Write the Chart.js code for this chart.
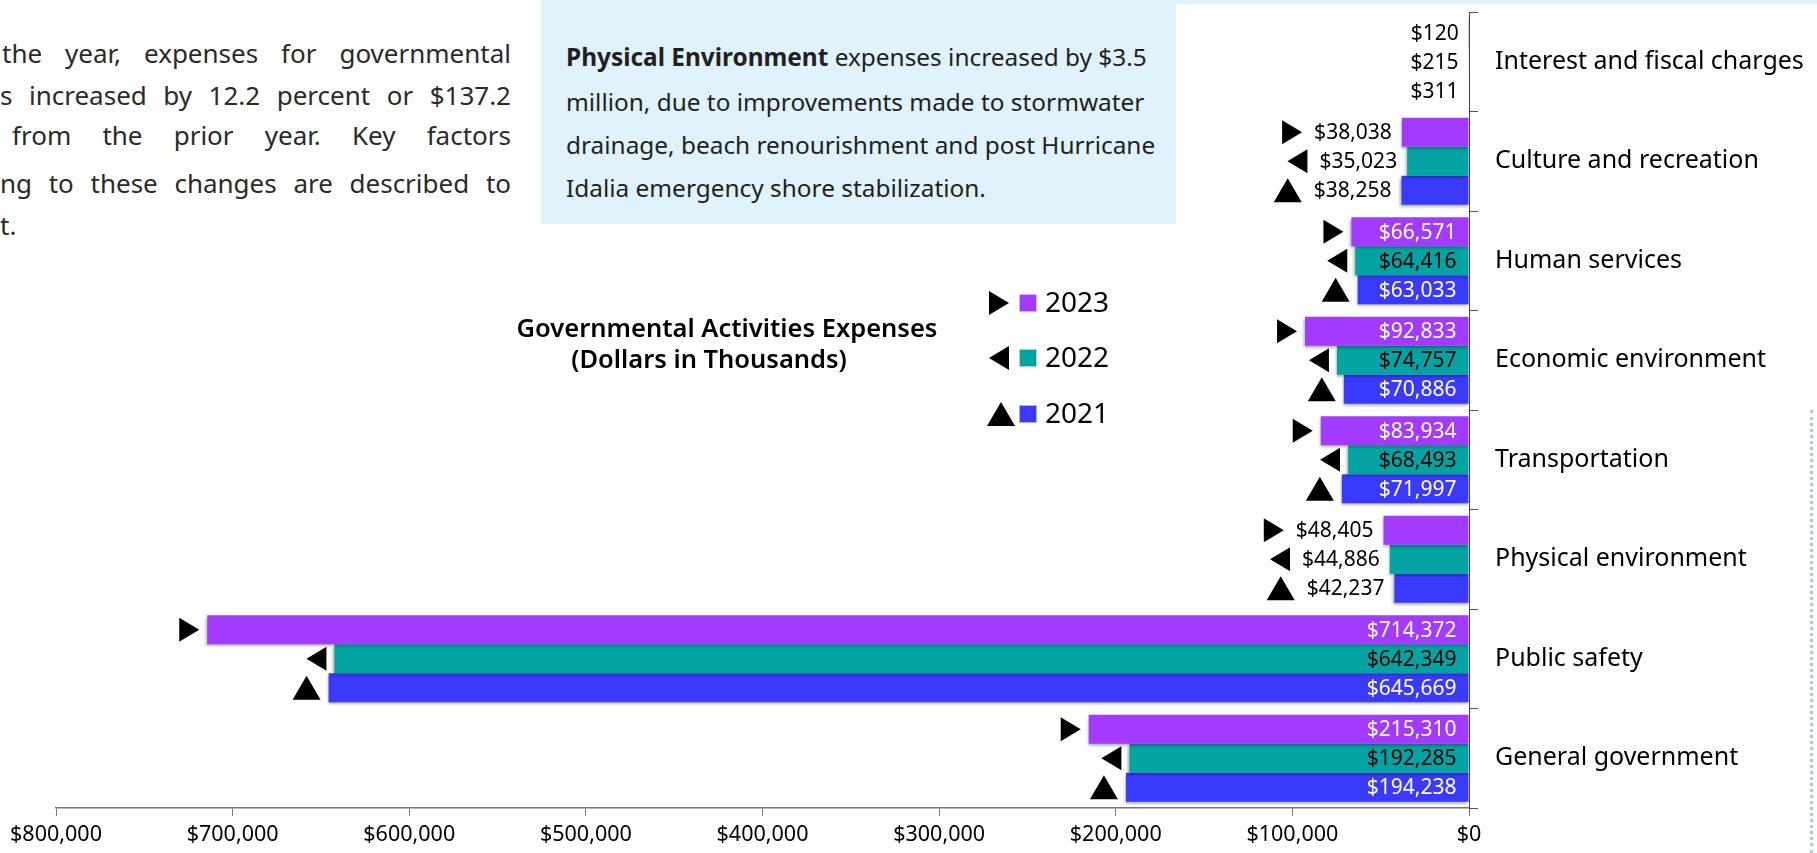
<!DOCTYPE html>
<html>
<head>
<meta charset="utf-8">
<script src="https://cdn.jsdelivr.net/npm/chart.js@4.4.1/dist/chart.umd.min.js"></script>
<style>
body{margin:0;background:#fff;}
#page{position:relative;width:1817px;height:853px;overflow:hidden;font-family:"Noto Sans",sans-serif;}
#chartBox{position:absolute;left:0;top:0;width:1817px;height:853px;}
.pl{position:absolute;left:0;width:511px;height:30px;line-height:30px;font-size:26px;color:#2a2a2a;white-space:nowrap;text-align:justify;text-align-last:justify;}
#note{position:absolute;left:541px;top:0;width:635px;height:224px;background:#e0f2fb;}
.nl{position:absolute;left:25px;height:30px;line-height:30px;font-size:24.4px;color:#231f20;white-space:nowrap;}
#strip{position:absolute;left:1176px;top:0;width:641px;height:4px;background:#e0f2fb;}
#edge{position:absolute;left:1810px;top:410px;width:0;height:443px;border-left:3px dotted #a9c9ec;}
</style>
</head>
<body>
<div id="page">
  <!-- texte de gauche (coupé par le cadrage) -->
  <div class="pl" style="top:38px;left:2px;width:509px">the year, expenses for governmental</div>
  <div class="pl" style="top:80px">s increased by 12.2 percent or $137.2</div>
  <div class="pl" style="top:120px;left:12px;width:499px">from the prior year. Key factors</div>
  <div class="pl" style="top:168px">ng to these changes are described to</div>
  <div class="pl" style="top:210px;text-align:left;text-align-last:left">t.</div>

  <div id="note">
    <div class="nl" style="top:42px"><b>Physical Environment</b> expenses increased by $3.5</div>
    <div class="nl" style="top:87px">million, due to improvements made to stormwater</div>
    <div class="nl" style="top:130px">drainage, beach renourishment and post Hurricane</div>
    <div class="nl" style="top:173px">Idalia emergency shore stabilization.</div>
  </div>
  <div id="strip"></div>
  <div id="edge"></div>

  <div id="chartBox"><canvas id="expChart"></canvas></div>
</div>
<script>
// categories, du haut vers le bas
var categories = ['Interest and fiscal charges', 'Culture and recreation', 'Human services',
	'Economic environment', 'Transportation', 'Physical environment', 'Public safety', 'General government'];
var years = ['2023', '2022', '2021'];
// dépenses (milliers de dollars)
var exp2023 = [120, 38038, 66571, 92833, 83934, 48405, 714372, 215310];
var exp2022 = [215, 35023, 64416, 74757, 68493, 44886, 642349, 192285];
var exp2021 = [311, 38258, 63033, 70886, 71997, 42237, 645669, 194238];
var xTicks = [0, 100000, 200000, 300000, 400000, 500000, 600000, 700000, 800000];

var purple = '#a23bff', teal = '#03a3a3', blue = '#3a3aff';

function money(v){
	return '$' + v.toLocaleString('en-US');
}

// petit triangle noir (droite, gauche, haut) ; rx = bord droit
function drawMarker(ctx, type, rx, cy){
	ctx.beginPath();
	if(type == 'right'){
		ctx.moveTo(rx - 20, cy - 12); ctx.lineTo(rx, cy); ctx.lineTo(rx - 20, cy + 12);
	}else if(type == 'left'){
		ctx.moveTo(rx, cy - 12); ctx.lineTo(rx - 20, cy); ctx.lineTo(rx, cy + 12);
	}else{
		ctx.moveTo(rx - 28, cy + 12); ctx.lineTo(rx - 14, cy - 12); ctx.lineTo(rx, cy + 12);
	}
	ctx.closePath();
	ctx.fillStyle = '#000';
	ctx.fill();
}

// ombre légère sous les barres
var shadowPlugin = {
	id: 'barShadow',
	beforeDatasetsDraw: function(chart){
		var ctx = chart.ctx;
		ctx.save();
		ctx.shadowColor = 'rgba(0,0,0,0.35)';
		ctx.shadowBlur = 3;
		ctx.shadowOffsetX = -1;
		ctx.shadowOffsetY = 2;
	},
	afterDatasetsDraw: function(chart){
		chart.ctx.restore();
	}
};

// valeurs + triangles
var labelPlugin = {
	id: 'barLabels',
	afterDatasetsDraw: function(chart){
		var ctx = chart.ctx;
		ctx.save();
		ctx.font = '21px "Noto Sans"';
		ctx.textBaseline = 'middle';
		ctx.textAlign = 'right';
		chart.data.datasets.forEach(function(ds, i){
			var meta = chart.getDatasetMeta(i);
			meta.data.forEach(function(bar, j){
				var txt = money(ds.data[j]);
				var w = ctx.measureText(txt).width;
				var len = bar.base - bar.x;
				var tx, left;
				if(len > w + 24){ // dans la barre
					tx = bar.base - 12;
					ctx.fillStyle = ds.labelColor;
					left = bar.x;
				}else{ // à gauche de la barre
					tx = bar.x - 10;
					ctx.fillStyle = '#000';
					left = tx - w - 4;
				}
				ctx.fillText(txt, tx, bar.y + 1);
				if(j > 0) drawMarker(ctx, ds.marker, left - 8, bar.y);
			});
		});
		ctx.restore();
	}
};

// titre + légende
var legendPlugin = {
	id: 'sideLegend',
	afterDraw: function(chart){
		var ctx = chart.ctx;
		ctx.save();
		ctx.fillStyle = '#000';
		ctx.textBaseline = 'middle';
		ctx.textAlign = 'center';
		ctx.font = '600 25.5px "Noto Sans"';
		ctx.fillText('Governmental Activities Expenses', 727, 330);
		ctx.fillText('(Dollars in Thousands)', 709, 361);

		var rows = [303, 358, 414];
		ctx.textAlign = 'left';
		ctx.font = '28px "Noto Sans"';
		chart.data.datasets.forEach(function(ds, i){
			var cy = rows[i];
			drawMarker(ctx, ds.marker, ds.marker == 'up' ? 1015 : 1009, cy);
			ctx.fillStyle = ds.backgroundColor;
			ctx.fillRect(1019, cy - 9, 18, 18);
			ctx.strokeStyle = 'rgba(255,255,255,0.6)';
			ctx.lineWidth = 1;
			ctx.strokeRect(1019.5, cy - 8.5, 17, 17);
			ctx.fillStyle = '#000';
			ctx.fillText(years[i], 1045, cy + 1);
		});
		ctx.restore();
	}
};

var ctx1 = document.getElementById('expChart');
var myChart = new Chart(ctx1, {
	type: 'bar',
	data: {
		labels: categories,
		datasets: [
			{label: years[0], data: exp2023, backgroundColor: purple, labelColor: '#fff', marker: 'right'},
			{label: years[1], data: exp2022, backgroundColor: teal, labelColor: '#000', marker: 'left'},
			{label: years[2], data: exp2021, backgroundColor: blue, labelColor: '#fff', marker: 'up'}
		]
	},
	options: {
		indexAxis: 'y',
		responsive: true,
		maintainAspectRatio: false,
		animation: false,
		barPercentage: 1,
		categoryPercentage: 0.875,
		layout: {padding: {left: 56, top: 12, right: 0, bottom: 0}},
		plugins: {legend: {display: false}, tooltip: {enabled: false}},
		scales: {
			x: {
				type: 'linear',
				reverse: true,
				min: 0,
				max: 800000,
				afterBuildTicks: function(scale){
					scale.ticks = xTicks.map(function(v){ return {value: v}; });
				},
				ticks: {
					callback: function(v){ return money(v); },
					color: '#000',
					font: {family: '"Noto Sans"', size: 21.5},
					padding: 6,
					maxRotation: 0
				},
				grid: {drawOnChartArea: false, drawTicks: true, tickLength: 8, color: '#777'},
				border: {display: true, color: '#777', width: 1.5},
				afterFit: function(scale){ scale.height = 45; }
			},
			y: {
				position: 'right',
				ticks: {
					color: '#000',
					font: {family: '"Noto Sans"', size: 25},
					padding: 17
				},
				grid: {offset: true, drawOnChartArea: false, drawTicks: true, tickLength: 9, color: '#555'},
				border: {display: true, color: '#444', width: 1},
				afterFit: function(scale){
					scale.width = 348;
					scale.paddingTop = 0;
					scale.paddingBottom = 0;
				}
			}
		}
	},
	plugins: [shadowPlugin, labelPlugin, legendPlugin]
});
</script>
</body>
</html>
